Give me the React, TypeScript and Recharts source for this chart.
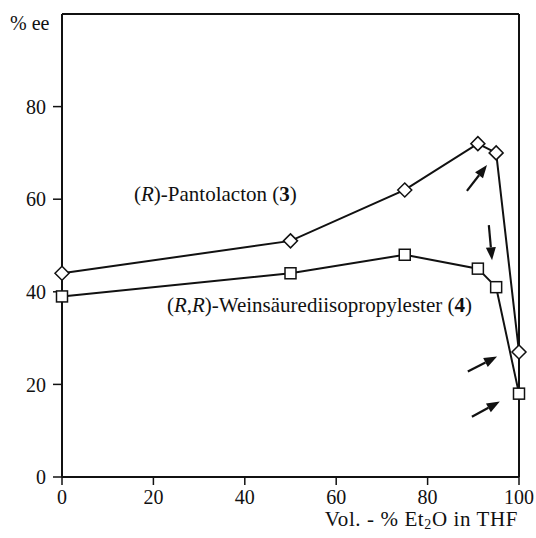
import React from "react";
import { Line, LineChart, ReferenceLine, XAxis, YAxis } from "recharts";

// Vol.-% Et2O in THF
const volPercent = [0, 50, 75, 91, 95, 100];
// (R)-Pantolacton (3), % ee
const pantolacton = [44, 51, 62, 72, 70, 27];
// (R,R)-Weinsäurediisopropylester (4), % ee
const weinsaeure = [39, 44, 48, 45, 41, 18];

const xTicks = [0, 20, 40, 60, 80, 100];
const yTicks = [0, 20, 40, 60, 80];

// arrows drawn in the figure, [from, to] in data units
const arrows = [
  [{ x: 88.6, y: 61.8 }, { x: 93.0, y: 67.4 }],
  [{ x: 93.4, y: 54.4 }, { x: 94.1, y: 46.8 }],
  [{ x: 88.8, y: 22.8 }, { x: 95.2, y: 26.0 }],
  [{ x: 89.7, y: 13.0 }, { x: 95.8, y: 16.3 }],
];

const rows = volPercent.map((v, i) => ({
  vol: v,
  pant: pantolacton[i],
  wein: weinsaeure[i],
}));

const font = "Liberation Serif";
const ink = "#111";

const Diamond = (p: any) => {
  const { cx, cy, index } = p;
  const r = 7;
  return (
    <path
      key={`d-${index}`}
      d={`M${cx},${cy - r}L${cx + r},${cy}L${cx},${cy + r}L${cx - r},${cy}Z`}
      fill="#fff"
      stroke={ink}
      strokeWidth={1.5}
    />
  );
};

const Square = (p: any) => {
  const { cx, cy, index } = p;
  const h = 5.5;
  return (
    <rect
      key={`s-${index}`}
      x={cx - h}
      y={cy - h}
      width={h * 2}
      height={h * 2}
      fill="#fff"
      stroke={ink}
      strokeWidth={1.5}
    />
  );
};

const Arrow = (p: any) => {
  const { x1, y1, x2, y2 } = p;
  const a = Math.atan2(y2 - y1, x2 - x1);
  const len = 13;
  const w = 5;
  const bx = x2 - len * Math.cos(a);
  const by = y2 - len * Math.sin(a);
  const nx = -Math.sin(a) * w;
  const ny = Math.cos(a) * w;
  return (
    <g>
      <line x1={x1} y1={y1} x2={bx} y2={by} stroke={ink} strokeWidth={2.2} />
      <polygon
        points={`${x2},${y2} ${bx + nx},${by + ny} ${bx - nx},${by - ny}`}
        fill={ink}
      />
    </g>
  );
};

export default function App() {
  const tick = { fill: ink, fontSize: 20, fontFamily: font, style: { fontFamily: font } };
  const txt = {
    position: "absolute" as const,
    fontSize: 21,
    fontFamily: font,
    whiteSpace: "nowrap" as const,
    lineHeight: "23px",
  };
  return (
    <div
      style={{
        position: "absolute",
        left: 0,
        top: 0,
        width: 536,
        height: 538,
        background: "#fff",
        color: ink,
      }}
    >
      <LineChart
        width={536}
        height={538}
        data={rows}
        margin={{ top: 14, right: 17, bottom: 0, left: 0 }}
      >
        <XAxis
          type="number"
          dataKey="vol"
          domain={[0, 100]}
          ticks={xTicks}
          height={61}
          tickSize={8}
          tickMargin={5}
          axisLine={{ stroke: ink, strokeWidth: 2 }}
          tickLine={{ stroke: ink, strokeWidth: 1.5 }}
          tick={tick}
        />
        <YAxis
          type="number"
          domain={[0, 100]}
          ticks={yTicks}
          width={62}
          tickSize={9}
          tickMargin={7}
          axisLine={{ stroke: ink, strokeWidth: 2 }}
          tickLine={{ stroke: ink, strokeWidth: 1.5 }}
          tick={tick}
        />
        <ReferenceLine y={100} stroke={ink} strokeWidth={2} />
        <ReferenceLine x={100} stroke={ink} strokeWidth={2} />
        {arrows.map((seg, i) => (
          <ReferenceLine key={i} segment={seg} shape={Arrow} />
        ))}
        <Line
          type="linear"
          dataKey="pant"
          stroke={ink}
          strokeWidth={2}
          dot={Diamond}
          isAnimationActive={false}
        />
        <Line
          type="linear"
          dataKey="wein"
          stroke={ink}
          strokeWidth={2}
          dot={Square}
          isAnimationActive={false}
        />
      </LineChart>

      <div style={{ ...txt, fontSize: 20, left: 10, top: 12 }}>% ee</div>
      <div style={{ ...txt, left: 134, top: 183 }}>
        (<i style={{ fontFamily: font }}>R</i>)-Pantolacton (<b style={{ fontFamily: font }}>3</b>)
      </div>
      <div style={{ ...txt, right: 536 - 472, top: 294 }}>
        (<i style={{ fontFamily: font }}>R</i>,<i style={{ fontFamily: font }}>R</i>)-Weinsäurediisopropylester (
        <b style={{ fontFamily: font }}>4</b>)
      </div>
      <div style={{ ...txt, right: 536 - 518, top: 510, lineHeight: "19px", letterSpacing: "0.6px" }}>
        Vol. - % Et
        <sub style={{ fontFamily: font, fontSize: 14, verticalAlign: "-3px", lineHeight: 0 }}>2</sub>O in THF
      </div>
    </div>
  );
}
